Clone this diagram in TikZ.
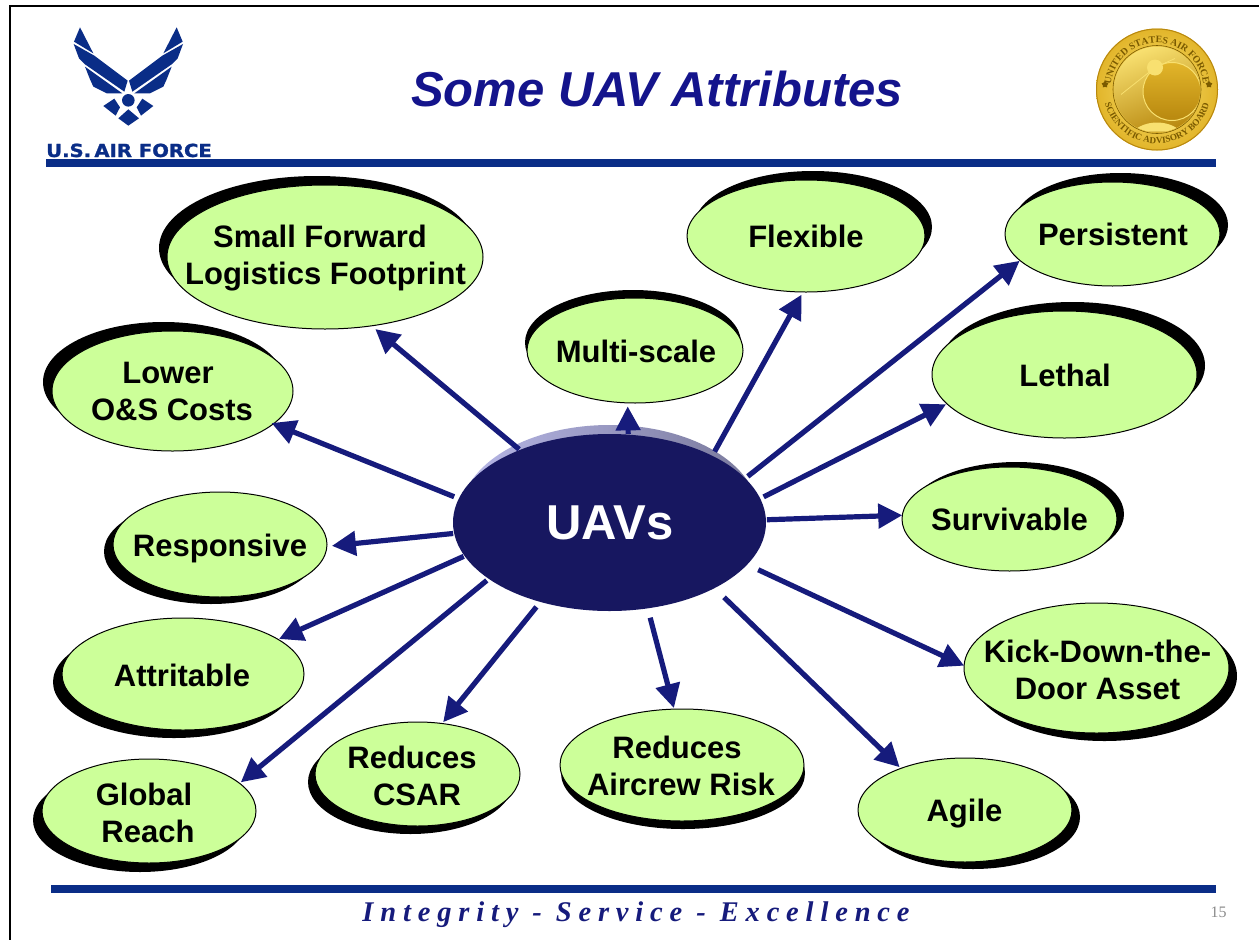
\documentclass[tikz,border=0pt]{standalone}
\usepackage{fontspec}
\usepackage{graphicx}
\setmainfont{Liberation Sans}
\newfontfamily\footfont[LetterSpace=24]{Liberation Serif}
\newfontfamily\serifnum{Liberation Serif}
\newfontfamily\logofont[BoldFeatures={FakeBold=1.2}]{DejaVu Sans}
\usetikzlibrary{arrows.meta,shapes.geometric,shadows,decorations.text}
\definecolor{afblue}{HTML}{0A2D87}
\definecolor{navyline}{HTML}{161B7C}
\definecolor{navyfill}{HTML}{171760}
\definecolor{titleblue}{HTML}{14148C}
\definecolor{bubblegreen}{HTML}{CCFF99}
\definecolor{goldlight}{HTML}{F8E070}
\definecolor{goldmid}{HTML}{E2B52A}
\definecolor{golddark}{HTML}{B8880F}
\definecolor{goldtext}{HTML}{7A5A00}
\definecolor{rimleft}{HTML}{B8B8E8}
\definecolor{rimright}{HTML}{78789A}
\newcommand{\st}{\rule{0pt}{22pt}}
\newcommand{\sd}{\rule[-6pt]{0pt}{6pt}}
\newcommand{\halfwing}{%
  \fill[afblue] (45,22) -- (27,65) -- (85,100) -- cycle;
  \fill[afblue] (26,72) -- (88,107) -- (188,182) -- (178,215) -- (60,133) -- (42,115) -- cycle;
  \fill[afblue] (60,140) -- (172,220) -- (125,220) -- (85,200) -- (75,178) -- cycle;
  \fill[afblue] (115,258) -- (148,236) -- (165,262) -- (152,287) -- cycle;
}
\tikzset{
  bubble/.style={ellipse,draw=black,line width=1pt,fill=bubblegreen,inner sep=0pt,outer sep=0pt},
  lbl/.style={inner sep=0pt,align=center,text=black,font=\fontsize{31}{37}\selectfont\bfseries},
  conn/.style={draw=navyline,line width=5.2pt,-{Triangle[length=24pt,width=24pt]}},
  bar/.style={fill=afblue},
}
\begin{document}
\begin{tikzpicture}[x=1pt,y=-1pt]
\useasboundingbox (0,0) rectangle (1259,940);
\fill[white] (0,0) rectangle (1259,940);
% frame
\draw[black,line width=2pt] (9.5,940) -- (9.5,6) -- (1259,6);
% bars
\fill[bar] (46,159) rectangle (1216,167);
\fill[bar] (51,885) rectangle (1216,893);
% title
\node[anchor=base,inner sep=0pt,text=titleblue,font=\fontsize{49}{60}\selectfont\bfseries\itshape] (title) at (657,106) {Some UAV Attributes};
% logo
\begin{scope}[shift={(65,20)},x=0.3333pt,y=-0.3333pt]
  \halfwing
  \fill[afblue] (190,241) circle [radius=6.3pt];
  \fill[afblue] (160,295) -- (190,268) -- (222,295) -- (190,317) -- cycle;
\end{scope}
\begin{scope}[xshift=191.67pt,yshift=-20pt,xscale=-1,x=0.3333pt,y=-0.3333pt]
  \halfwing
\end{scope}
\node[anchor=base west,inner sep=0pt,text=afblue] (logotext) at (46,157) {\scalebox{1.09}[1]{\logofont\fontsize{18}{20}\selectfont\bfseries U.S.\,AIR FORCE}};
% seal
\begin{scope}[shift={(1157,89.5)},x=1pt,y=1pt]
  \shade[inner color=goldlight,outer color=goldmid] (0,0) circle [radius=61pt];
  \draw[golddark,line width=1pt] (0,0) circle [radius=60.5pt];
  \draw[goldtext,line width=.6pt] (0,0) circle [radius=44pt];
  \begin{scope}
    \clip (0,0) circle [radius=43pt];
    \shade[left color=goldlight,right color=golddark,shading angle=20] (-43,-43) rectangle (43,43);
    \shade[top color=goldmid,bottom color=golddark] (15,-2) circle [radius=29pt];
    \draw[goldlight,line width=1pt] (15,-2) circle [radius=29pt];
    \fill[goldlight] (-24,-42) .. controls (-12,-30) and (12,-30) .. (24,-42) -- cycle;
    \fill[goldlight] (-2,22) circle [radius=8pt];
    \draw[goldlight,line width=.8pt] (-36,-5) -- (-2,22) -- (18,31);
  \end{scope}
  \path[decorate,decoration={text along path,text align=center,text={|\bfseries\serifnum\fontsize{9.8}{12}\selectfont\color{goldtext}|UNITED STATES AIR FORCE}}] (172:46.5) arc (172:8:46.5);
  \path[decorate,decoration={text along path,text align=center,text={|\bfseries\serifnum\fontsize{9.2}{12}\selectfont\color{goldtext}|SCIENTIFIC ADVISORY BOARD}}] (188:54) arc (188:352:54);
  \node[star,star points=5,fill=goldtext,inner sep=0pt,minimum size=7pt] (starl) at (-52,5) {};
  \node[star,star points=5,fill=goldtext,inner sep=0pt,minimum size=7pt] (starr) at (52,5) {};
\end{scope}
% centre
\node[ellipse,inner sep=0pt,outer sep=0pt,minimum width=297pt,minimum height=177pt,left color=rimleft,right color=rimright] (uavrim) at (609.5,513.5) {};
\node[ellipse,inner sep=0pt,outer sep=0pt,minimum width=313pt,minimum height=177pt,fill=navyfill] (uav) at (609.5,522.5) {};
\node[inner sep=0pt,text=white,font=\fontsize{49}{58}\selectfont\bfseries] (uavt) at (610,523) {UAVs};
% bubbles
\node[bubble,minimum width=316pt,minimum height=144pt,copy shadow={shadow xshift=-8pt,shadow yshift=9pt,fill=black,draw=none}] (sf) at (325,257) {};
\node[bubble,minimum width=241pt,minimum height=120pt,copy shadow={shadow xshift=-9pt,shadow yshift=9pt,fill=black,draw=none}] (low) at (172.5,391) {};
\node[bubble,minimum width=216pt,minimum height=105pt,copy shadow={shadow xshift=-2pt,shadow yshift=8pt,fill=black,draw=none}] (multi) at (635,350.5) {};
\node[bubble,minimum width=238pt,minimum height=112pt,copy shadow={shadow xshift=7pt,shadow yshift=9pt,fill=black,draw=none}] (flex) at (806,236) {};
\node[bubble,minimum width=215pt,minimum height=104pt,copy shadow={shadow xshift=8pt,shadow yshift=9pt,fill=black,draw=none}] (pers) at (1112.5,234) {};
\node[bubble,minimum width=265pt,minimum height=127pt,copy shadow={shadow xshift=8pt,shadow yshift=9pt,fill=black,draw=none}] (lethal) at (1064.5,374.5) {};
\node[bubble,minimum width=215pt,minimum height=104pt,copy shadow={shadow xshift=7pt,shadow yshift=5pt,fill=black,draw=none}] (surv) at (1009.5,519) {};
\node[bubble,minimum width=265pt,minimum height=130pt,copy shadow={shadow xshift=8pt,shadow yshift=-8pt,fill=black,draw=none}] (kick) at (1096.5,668) {};
\node[bubble,minimum width=214pt,minimum height=105pt,copy shadow={shadow xshift=-9pt,shadow yshift=-7pt,fill=black,draw=none}] (resp) at (220,544.5) {};
\node[bubble,minimum width=242pt,minimum height=112pt,copy shadow={shadow xshift=-9pt,shadow yshift=-8pt,fill=black,draw=none}] (attr) at (183,674) {};
\node[bubble,minimum width=214pt,minimum height=104pt,copy shadow={shadow xshift=-9pt,shadow yshift=-9pt,fill=black,draw=none}] (glob) at (149,811) {};
\node[bubble,minimum width=205pt,minimum height=104pt,copy shadow={shadow xshift=-7pt,shadow yshift=-8pt,fill=black,draw=none}] (csar) at (417.5,774) {};
\node[bubble,minimum width=244pt,minimum height=112pt,copy shadow={shadow xshift=1pt,shadow yshift=-8pt,fill=black,draw=none}] (air) at (682,765) {};
\node[bubble,minimum width=214pt,minimum height=104pt,copy shadow={shadow xshift=8pt,shadow yshift=-7pt,fill=black,draw=none}] (agile) at (965,810) {};
% bubble texts
\node[lbl] (sft) at (325.5,258.2) {\st Small Forward\kern11pt\\\sd Logistics Footprint};
\node[lbl] (lowt) at (172,394.2) {\st Lower\kern8pt\\\sd O\&S Costs};
\node[lbl] (multit) at (636,354.7) {\st\sd Multi-scale};
\node[lbl] (flext) at (806,239.7) {\st\sd Flexible};
\node[lbl] (perst) at (1113,237) {\st\sd Persistent};
\node[lbl] (lethalt) at (1065,378.7) {\st\sd Lethal};
\node[lbl] (survt) at (1009.5,522) {\st\sd Survivable};
\node[lbl] (kickt) at (1097.5,673.2) {\st Kick-Down-the-\\\sd Door Asset};
\node[lbl] (respt) at (220,548) {\st\sd Responsive};
\node[lbl] (attrt) at (182,678) {\st\sd Attritable};
\node[lbl] (globt) at (144,816) {\st Global\\\sd\kern8pt Reach};
\node[lbl] (csart) at (412,779) {\st Reduces\\\sd\kern10pt CSAR};
\node[lbl] (airt) at (681,769) {\st Reduces\kern8pt\\\sd Aircrew Risk};
\node[lbl] (agilet) at (964.5,813.5) {\st\sd Agile};
% connectors
\draw[conn,shorten <=1pt,shorten >=5pt] (uav.141.9) -- (sf.304.4);
\draw[conn,shorten <=5pt,shorten >=-2pt] (uav.171.5) -- (low.342.2);
\draw[conn,shorten <=1pt,shorten >=5pt] (uav.184.2) -- (resp.359.5);
\draw[conn,shorten <=1pt,shorten >=1pt] (uav.193.8) -- (attr.20.96);
\draw[conn,shorten <=2.6pt,shorten >=1.6pt] (uav.205.7) -- (glob.17.7);
\draw[conn,shorten <=6.4pt,shorten >=1.7pt] (uav.229.4) -- (csar.64.3);
\draw[conn,shorten <=9.7pt,shorten >=1.1pt] (uav.294.7) -- (air.98);
\draw[conn,shorten <=13.2pt,shorten >=1.7pt] (uav.328.1) -- (agile.147.9);
\draw[conn,shorten <=12.2pt] (uav.343.1) -- (kick.179.6);
\draw[conn,shorten <=1pt] (uav.1.3) -- (surv.178.9);
\draw[conn,shorten <=3.9pt,shorten >=1pt] (uav.9) -- (lethal.194.6);
\draw[conn,shorten <=3.3pt,shorten >=.5pt] (uav.18.2) -- (pers.196.3);
\draw[conn,shorten <=4.8pt,shorten >=3pt] (uav.33.1) -- (flex.267.1);
\draw[conn,shorten <=.7pt,shorten >=3.5pt] (uav.78.2) -- (multi.262.8);
% footer
\node[anchor=base,inner sep=0pt,text=navyline] (foot) at (636,921) {\footfont\fontsize{28.5}{30}\selectfont\bfseries\itshape Integrity - Service - Excellence};
\node[anchor=base,inner sep=0pt,text=black!45] (pageno) at (1218.5,917) {\serifnum\fontsize{16}{18}\selectfont 15};
\end{tikzpicture}
\end{document}
